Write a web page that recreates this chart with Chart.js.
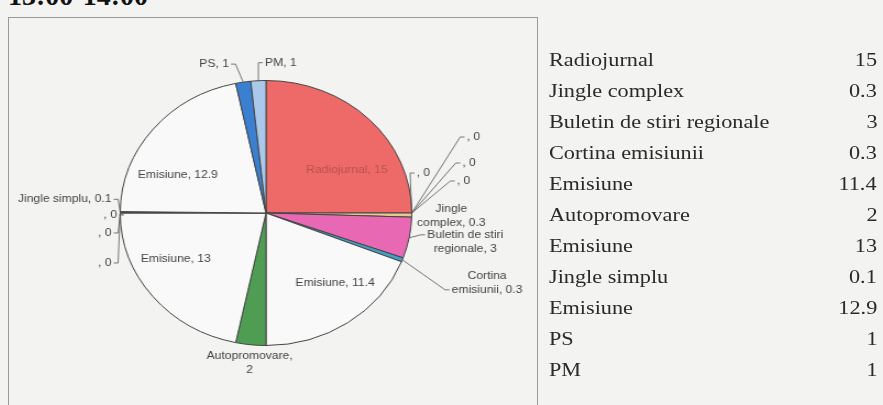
<!DOCTYPE html>
<html>
<head>
<meta charset="utf-8">
<script src="https://cdn.jsdelivr.net/npm/chart.js@4.4.1/dist/chart.umd.min.js"></script>
<style>
	body { margin: 0; width: 883px; height: 405px; overflow: hidden; position: relative; background: #f3f3f1; }
	#title { position: absolute; left: 8px; top: -18px; font: bold 28px "Liberation Serif", serif; line-height: 28px; color: #111; }
	#box { position: absolute; left: 8px; top: 17px; width: 528px; height: 400px; border: 1px solid #999; }
	#canvas { position: absolute; left: 13px; top: 18px; transform: scaleX(1.1); transform-origin: 0 0; }
	#table { position: absolute; left: 549px; top: 44px; width: 328px; font: 19px "Liberation Serif", serif; color: #2a2a2a; }
	#table div { height: 31px; line-height: 31px; display: flex; justify-content: space-between; }
	#table span { display: inline-block; transform: scaleX(1.17); transform-origin: 0 50%; }
	#table span.v { transform-origin: 100% 50%; }
</style>
</head>
<body>
<div id="title">13:00-14:00</div>
<div id="box"></div>
<canvas id="canvas" width="500" height="388"></canvas>
<div id="table"></div>
<script>
// pie slices (empty names are the ", 0" slices)
var categories = ["Radiojurnal", "", "", "", "", "Jingle complex", "Buletin de stiri regionale", "Cortina emisiunii",
	"Emisiune", "Autopromovare", "Emisiune", "", "", "", "Jingle simplu", "Emisiune", "PS", "PM"];
var values = [15, 0, 0, 0, 0, 0.3, 3, 0.3, 11.4, 2, 13, 0, 0, 0, 0.1, 12.9, 1, 1];
var colors = ["#ee6a68", "#e8c890", "#e8c890", "#e8c890", "#e8c890", "#e8c890", "#e868b4", "#3ea2c6",
	"#f9f9f9", "#4f9d52", "#f9f9f9", "#e8c890", "#e8c890", "#e8c890", "#555555", "#f9f9f9", "#3b7fd0", "#a9c8ea"];

// table at the right
var tableLabels = ["Radiojurnal", "Jingle complex", "Buletin de stiri regionale", "Cortina emisiunii", "Emisiune",
	"Autopromovare", "Emisiune", "Jingle simplu", "Emisiune", "PS", "PM"];
var tableValues = ["15", "0.3", "3", "0.3", "11.4", "2", "13", "0.1", "12.9", "1", "1"];

var table = document.getElementById("table");
tableLabels.forEach(function(label, i) {
	table.innerHTML += "<div><span>" + label + "</span><span class='v'>" + tableValues[i] + "</span></div>";
});

// where each slice label goes: inside (angle shift in deg, radius fraction) or outside (offset from rim)
var placement = [
	{ type: "in", shift: 14.7, r: 0.643, color: "#b85252" },
	{ type: "out", dx: 4.5, dy: -40, align: "left", leader: 0 },
	{ type: "out", dx: 50, dy: -76, align: "left", leader: 0 },
	{ type: "out", dx: 46, dy: -50, align: "left", leader: 0 },
	{ type: "out", dx: 41, dy: -32, align: "left", leader: 0 },
	{ type: "out", dx: 36, dy: -6, align: "center", split: 1 },
	{ type: "out", dx: 51, dy: -3, align: "center", split: 3, leader: 0 },
	{ type: "out", dx: 77, dy: 16, align: "center", split: 1, leader: 1 },
	{ type: "in", shift: -7.7, r: 0.71 },
	{ type: "out", dx: -1, dy: 11, align: "center", split: 1 },
	{ type: "in", shift: 9.7, r: 0.71 },
	{ type: "out", dx: -3, dy: 2, align: "right", leader: 0 },
	{ type: "out", dx: -8, dy: 20, align: "right", leader: 0 },
	{ type: "out", dx: -8, dy: 50, align: "right", leader: 0 },
	{ type: "out", dx: -8, dy: -13, align: "right", leader: 0 },
	{ type: "in", shift: -14, r: 0.669 },
	{ type: "out", dx: -13, dy: -18, align: "right", leader: 0 },
	{ type: "out", dx: 6, dy: -18, align: "left", leader: 0 }
];

var pieLabels = {
	id: "pieLabels",
	afterDatasetsDraw: function(chart) {
		var ctx = chart.ctx;
		var arcs = chart.getDatasetMeta(0).data;
		ctx.save();
		ctx.font = '11px "Liberation Sans", Arial, sans-serif';
		ctx.textBaseline = "middle";
		ctx.strokeStyle = "#555";
		ctx.lineWidth = 0.8;
		arcs.forEach(function(arc, i) {
			var p = arc.getProps(["x", "y", "startAngle", "endAngle", "outerRadius"], true);
			var mid = (p.startAngle + p.endAngle) / 2;
			var pl = placement[i];
			var text = (categories[i] ? categories[i] : "") + ", " + values[i];
			if (pl.type == "in") {
				var a = mid + pl.shift * Math.PI / 180;
				ctx.fillStyle = pl.color || "#444";
				ctx.textAlign = "center";
				ctx.fillText(text, p.x + Math.cos(a) * p.outerRadius * pl.r, p.y + Math.sin(a) * p.outerRadius * pl.r);
				return;
			}
			var lines = [text];
			if (pl.split) {
				var words = text.split(" ");
				lines = [words.slice(0, pl.split).join(" "), words.slice(pl.split).join(" ")];
			}
			var ex = p.x + Math.cos(mid) * p.outerRadius;
			var ey = p.y + Math.sin(mid) * p.outerRadius;
			var tx = ex + pl.dx, ty = ey + pl.dy;
			ctx.fillStyle = "#444";
			ctx.textAlign = pl.align;
			lines.forEach(function(line, k) {
				ctx.fillText(line, tx, ty + k * 14);
			});
			if (pl.leader === undefined) return;
			var ly = ty + pl.leader * 14;
			var end, knee;
			if (pl.align == "right") {
				end = tx + 2; knee = tx + 6;
			} else if (pl.align == "left") {
				end = tx - 2; knee = tx - 6;
			} else {
				end = tx - ctx.measureText(lines[pl.leader]).width / 2 - 2; knee = end - 4;
			}
			ctx.beginPath();
			ctx.moveTo(ex, ey);
			ctx.lineTo(knee, ly);
			ctx.lineTo(end, ly);
			ctx.stroke();
		});
		ctx.restore();
	}
};

var ctx = document.getElementById("canvas").getContext("2d");
var chart = new Chart(ctx, {
	type: "pie",
	data: {
		labels: categories,
		datasets: [{
			data: values,
			backgroundColor: colors,
			borderColor: "#444",
			borderWidth: 1
		}]
	},
	options: {
		responsive: false,
		animation: false,
		devicePixelRatio: 1,
		layout: { padding: { left: 97, right: 137, top: 62, bottom: 60 } },
		plugins: { legend: { display: false }, tooltip: { enabled: false } }
	},
	plugins: [pieLabels]
});
</script>
</body>
</html>
